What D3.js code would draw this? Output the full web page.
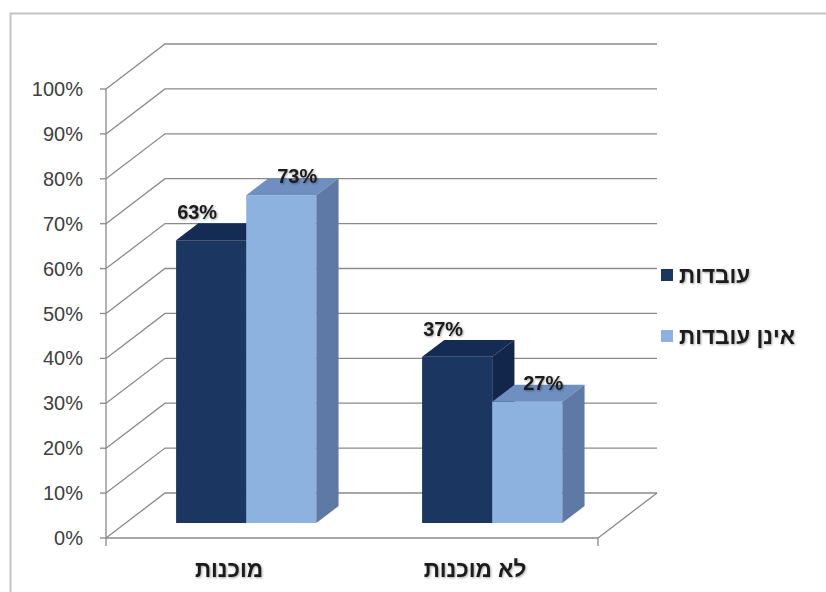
<!DOCTYPE html>
<html>
<head>
<meta charset="utf-8">
<script src="https://cdn.jsdelivr.net/npm/d3@7/dist/d3.min.js"></script>
<style>
  html, body { margin: 0; padding: 0; background: #fff; }
  svg { display: block; font-family: "Liberation Sans", Arial, sans-serif; }
</style>
</head>
<body>
<svg id="chart" width="826" height="592"></svg>
<script>
// Readiness share by employment status
const categories = ["מוכנות", "לא מוכנות"];
const seriesNames = ["עובדות", "אינן עובדות"];
const employedValues = [0.63, 0.37];
const notEmployedValues = [0.73, 0.27];
const valueLabels = [["63%", "37%"], ["73%", "27%"]];
const yTicks = [0, 0.1, 0.2, 0.3, 0.4, 0.5, 0.6, 0.7, 0.8, 0.9, 1.0];

const seriesValues = [employedValues, notEmployedValues];

// face colours per series: front, top, side
const palette = [
  { front: "#1b3661", top: "#142c54", side: "#11264a" },
  { front: "#8db2e0", top: "#6e8fc0", side: "#5e79a5" }
];

const svg = d3.select("#chart");

// plot geometry (front plane + oblique depth)
const plotLeft = 106, plotRight = 598, plotTop = 89, plotBottom = 538;
const depthX = 59, depthY = 45;          // full wall depth offset
const barZ0 = 1 / 3, barZ1 = 0.71;       // bar depth span as fraction of wall depth

const y = d3.scaleLinear().domain([0, 1]).range([plotBottom, plotTop]);
const x = d3.scaleBand().domain(categories).range([plotLeft, plotRight]).padding(0);
const inner = d3.scaleBand().domain(d3.range(seriesNames.length))
  .range([x.bandwidth() * 0.205, x.bandwidth() * 0.775]).padding(0);

// project (px, value-y, depth fraction) to screen
const P = (px, py, z) => [px + z * depthX, py - z * depthY];

// outer chart frame
svg.append("path")
  .attr("d", "M10.5,600 L10.5,13.5 L830,13.5")
  .attr("fill", "none").attr("stroke", "#c4c4c4").attr("stroke-width", 2);

// gridlines: side wall diagonal + back wall horizontal
const gridColor = "#8a8a8a";
const grid = svg.append("g").attr("fill", "none").attr("stroke", gridColor).attr("stroke-width", 1.3);
yTicks.forEach(t => {
  const a = P(plotLeft, y(t), 0), b = P(plotLeft, y(t), 1), c = P(plotRight, y(t), 1);
  grid.append("path").attr("d", d3.line()([a, b, c]));
});
// floor right edge
grid.append("path").attr("d", d3.line()([P(plotRight, y(0), 0), P(plotRight, y(0), 1)]));

// bars
const bars = svg.append("g");
const poly = pts => "M" + pts.map(p => p.join(",")).join("L") + "Z";
categories.forEach((cat, ci) => {
  seriesNames.forEach((s, si) => {
    const v = seriesValues[si][ci];
    const x0 = x(cat) + inner(si), x1 = x0 + inner.bandwidth();
    const yb = y(0), yt = y(v);
    const c = palette[si];
    // front face
    bars.append("path").attr("fill", c.front)
      .attr("d", poly([P(x0, yt, barZ0), P(x1, yt, barZ0), P(x1, yb, barZ0), P(x0, yb, barZ0)]));
    // top face
    bars.append("path").attr("fill", c.top)
      .attr("d", poly([P(x0, yt, barZ0), P(x1, yt, barZ0), P(x1, yt, barZ1), P(x0, yt, barZ1)]));
    // right side face
    bars.append("path").attr("fill", c.side)
      .attr("d", poly([P(x1, yt, barZ0), P(x1, yt, barZ1), P(x1, yb, barZ1), P(x1, yb, barZ0)]));
  });
});

// front axis line and floor front edge with ticks
const axis = svg.append("g").attr("fill", "none").attr("stroke", gridColor).attr("stroke-width", 1.3);
axis.append("path").attr("d", `M${plotLeft},${plotTop} L${plotLeft},${plotBottom + 8}`);
axis.append("path").attr("d", `M${plotLeft},${plotBottom} L${plotRight},${plotBottom} L${plotRight},${plotBottom + 8}`);
yTicks.forEach(t => {
  axis.append("path").attr("d", `M${plotLeft - 6},${y(t)} L${plotLeft},${y(t)}`);
});

// y tick labels
svg.append("g").selectAll("text").data(yTicks).join("text")
  .attr("x", 83).attr("y", d => y(d) + 7)
  .attr("text-anchor", "end")
  .attr("font-size", 20).attr("fill", "#404040")
  .text(d3.format(".0%"));

// soft shadow for bold labels
const defs = svg.append("defs");
const f = defs.append("filter").attr("id", "shadow").attr("x", "-20%").attr("y", "-30%")
  .attr("width", "140%").attr("height", "160%");
f.append("feDropShadow").attr("dx", 1).attr("dy", 1).attr("stdDeviation", 1)
  .attr("flood-color", "#000").attr("flood-opacity", 0.35);

// value labels above bars
const labelNudge = [{ dx: -14, dy: -21 }, { dx: 16, dy: -12 }];
categories.forEach((cat, ci) => {
  seriesNames.forEach((s, si) => {
    const v = seriesValues[si][ci];
    const cx = x(cat) + inner(si) + inner.bandwidth() / 2;
    const [px, py] = P(cx, y(v), barZ0);
    svg.append("text")
      .attr("x", px + labelNudge[si].dx).attr("y", py + labelNudge[si].dy)
      .attr("text-anchor", "middle").attr("font-weight", "bold")
      .attr("font-size", 20).attr("fill", "#1a1a1a")
      .attr("filter", "url(#shadow)")
      .text(valueLabels[si][ci]);
  });
});

// category labels
svg.append("g").selectAll("text").data(categories).join("text")
  .attr("x", d => x(d) + x.bandwidth() / 2)
  .attr("y", 577)
  .attr("text-anchor", "middle").attr("font-weight", "bold")
  .attr("font-size", 22.5).attr("fill", "#1a1a1a")
  .attr("filter", "url(#shadow)")
  .text(d => d);

// legend
const legend = svg.append("g").attr("transform", "translate(661,269)");
seriesNames.forEach((s, si) => {
  const g = legend.append("g").attr("transform", `translate(0,${si * 61})`);
  g.append("rect").attr("width", 12).attr("height", 12).attr("fill", palette[si].front);
  g.append("text").attr("x", 18).attr("y", 13.5)
    .attr("font-weight", "bold").attr("font-size", 22.5).attr("fill", "#1a1a1a")
    .attr("filter", "url(#shadow)")
    .text(s);
});
</script>
</body>
</html>
